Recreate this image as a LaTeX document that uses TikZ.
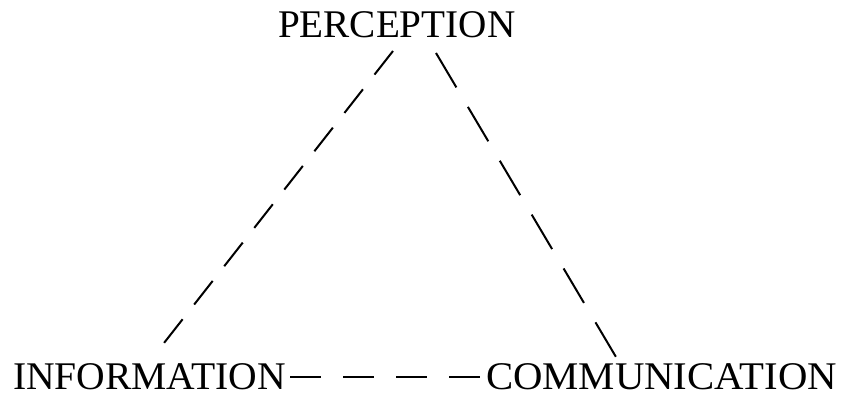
\documentclass[tikz,border=0pt]{standalone}
\usepackage{fontspec}
\setmainfont{Liberation Serif}
\begin{document}
\begin{tikzpicture}[x=1pt,y=1pt,
  lbl/.style={inner sep=0pt,outer sep=0pt,font=\fontsize{39.2}{41}\selectfont},
  link/.style={line width=2pt}]
\useasboundingbox (0,0) rectangle (842,401);
\node[lbl,anchor=base west] (per) at (278,363) {PERCEPTION};
\node[lbl,anchor=base west,xscale=1.01] (inf) at (13,12) {INFORMATION};
\node[lbl,anchor=base west,xscale=1.04] (com) at (486,12) {COMMUNICATION};
\coordinate (pl) at (393,350);
\coordinate (il) at (164,58);
\coordinate (pr) at (436,348);
\coordinate (cr) at (616,44);
\coordinate (ib) at (290,24);
\coordinate (cb) at (482,24);
\draw[link,dash pattern=on 30pt off 18.7pt] (pl) -- (il);
\draw[link,dash pattern=on 40pt off 22.6pt] (pr) -- (cr);
\draw[link,dash pattern=on 31pt off 22pt] (ib) -- (cb);
\end{tikzpicture}
\end{document}
